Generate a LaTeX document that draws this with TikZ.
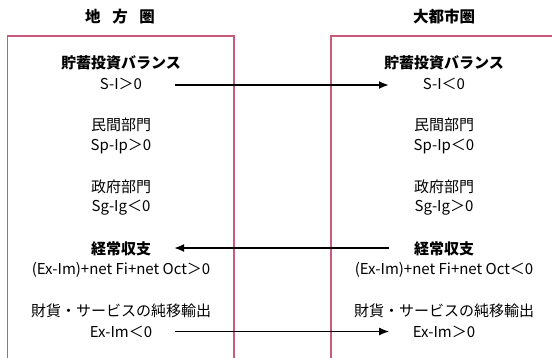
\documentclass[tikz,border=0pt]{standalone}
\usepackage{fontspec}
\setmainfont{Noto Sans CJK JP}
\usetikzlibrary{arrows.meta}
\definecolor{boxc}{RGB}{196,92,122}
\begin{document}
\begin{tikzpicture}[x=1pt,y=1pt,
  lbl/.style={inner sep=0pt, font=\fontsize{15}{17}\selectfont},
  lblb/.style={inner sep=0pt, font=\fontsize{15}{17}\selectfont\bfseries},
  hd/.style={inner sep=0pt, font=\fontsize{15.5}{18}\selectfont\bfseries},
  frame/.style={draw=boxc, line width=1.3pt},
  flow/.style={line width=1.9pt, -{Latex[length=10pt,width=8pt]}},
  flowthin/.style={line width=1.2pt, -{Latex[length=10pt,width=8pt]}}]
\useasboundingbox (0,0) rectangle (552,-357);
\begin{scope}
\clip (0,0) rectangle (552,-357);
\draw[frame] (7.5,-360) -- (7.5,-36) -- (234,-36) -- (234,-360);
\draw[frame] (331,-360) -- (331,-36) -- (560,-36);
\end{scope}
% headings
\node[hd] (hL) at (120,-17) {地\hspace{0.75em}方\hspace{0.75em}圏};
\node[hd] (hR) at (444,-17) {大都市圏};
% left column
\node[lblb] (L1a) at (121,-63) {貯蓄投資バランス};
\node[lbl] (L1b) at (121,-84) {S-I＞0};
\node[lbl] (L2a) at (121,-125) {民間部門};
\node[lbl] (L2b) at (121,-146) {Sp-Ip＞0};
\node[lbl] (L3a) at (121,-187) {政府部門};
\node[lbl] (L3b) at (121,-208) {Sg-Ig＜0};
\node[lblb] (L4a) at (121,-249) {経常収支};
\node[lbl] (L4b) at (121,-270) {(Ex-Im)+net Fi+net Oct＞0};
\node[lbl] (L5a) at (121,-311) {財貨・サービスの純移輸出};
\node[lbl] (L5b) at (121,-332) {Ex-Im＜0};
% right column
\node[lblb] (R1a) at (444,-63) {貯蓄投資バランス};
\node[lbl] (R1b) at (444,-84) {S-I＜0};
\node[lbl] (R2a) at (444,-125) {民間部門};
\node[lbl] (R2b) at (444,-146) {Sp-Ip＜0};
\node[lbl] (R3a) at (444,-187) {政府部門};
\node[lbl] (R3b) at (444,-208) {Sg-Ig＞0};
\node[lblb] (R4a) at (444,-249) {経常収支};
\node[lbl] (R4b) at (444,-270) {(Ex-Im)+net Fi+net Oct＜0};
\node[lbl] (R5a) at (444,-311) {財貨・サービスの純移輸出};
\node[lbl] (R5b) at (444,-332) {Ex-Im＞0};
% connectors
\coordinate (a1s) at (175,-85);
\coordinate (a1e) at (389,-85);
\coordinate (a2s) at (389,-248);
\coordinate (a2e) at (174,-248);
\coordinate (a3s) at (175,-331.5);
\coordinate (a3e) at (389,-331.5);
\draw[flow] (a1s) -- (a1e);
\draw[flow] (a2s) -- (a2e);
\draw[flowthin] (a3s) -- (a3e);
\end{tikzpicture}
\end{document}
